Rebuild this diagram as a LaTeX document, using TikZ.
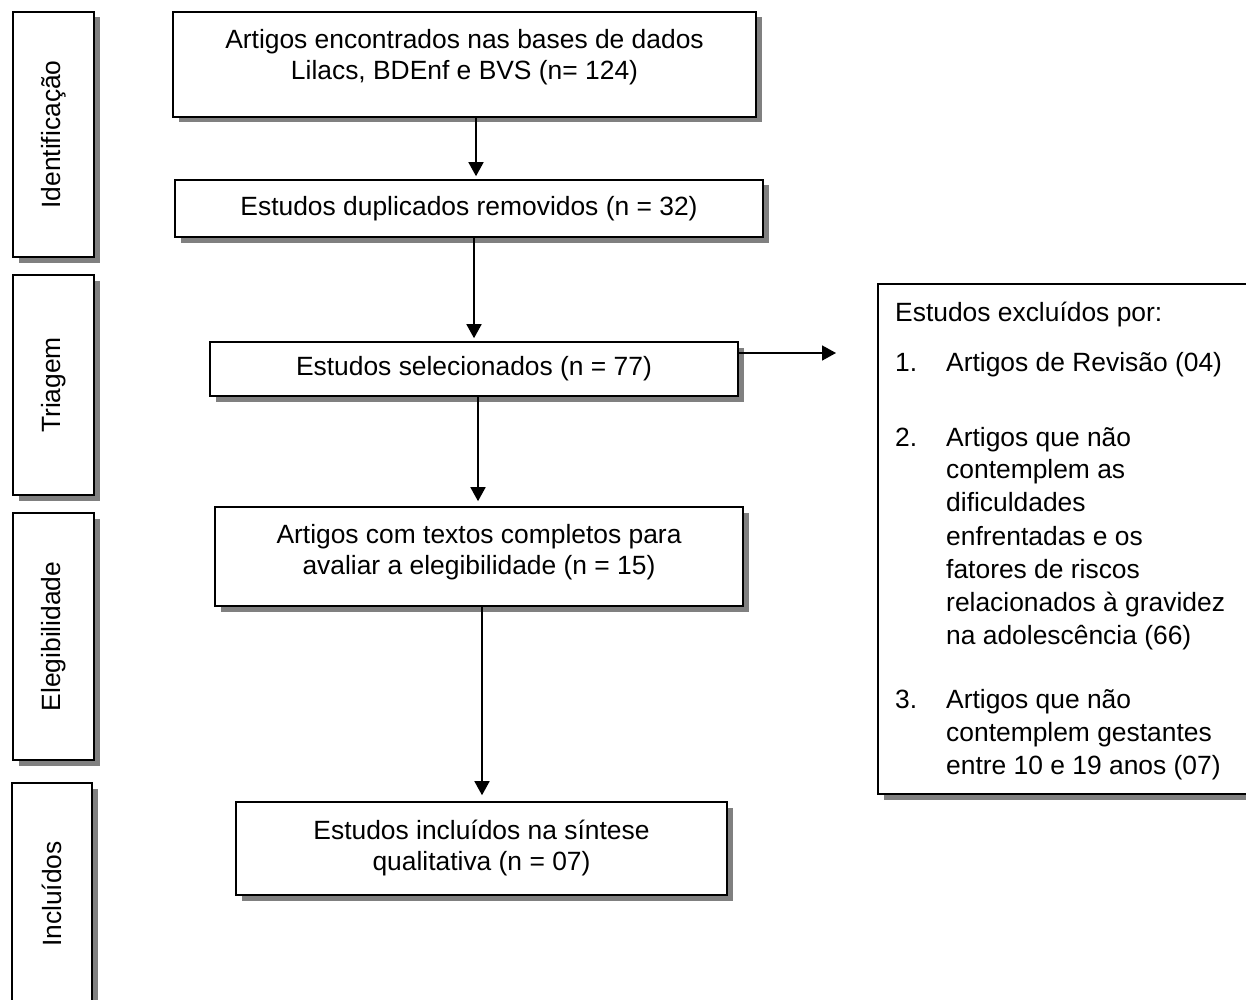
\documentclass[tikz,border=0pt]{standalone}
\usepackage{fontspec}
\setmainfont{Liberation Sans}
\usepackage{graphicx}
\usetikzlibrary{arrows.meta,shadows}
\begin{document}
\begin{tikzpicture}[x=1pt,y=-1pt,
  every node/.style={font=\fontsize{26.4pt}{31pt}\selectfont},
  box/.style={draw, line width=1.6pt, fill=white, inner sep=0pt, align=center,
     drop shadow={shadow xshift=5.5pt, shadow yshift=-5.5pt, fill=black!50, opacity=1}},
  arr/.style={line width=1.6pt, -{Triangle[width=15pt,length=14pt]}, shorten >=3pt},
  txt/.style={anchor=base west, inner sep=0pt}
]
\useasboundingbox (0,0) rectangle (1246,1000);

% side boxes
\node[box, minimum width=81pt, minimum height=245pt] (s1) at (53.5,134.5) {\rotatebox{90}{Identificação}};
\node[box, minimum width=81pt, minimum height=220pt] (s2) at (53.5,385) {\rotatebox{90}{Triagem}};
\node[box, minimum width=81pt, minimum height=247pt] (s3) at (53.5,636.5) {\rotatebox{90}{Elegibilidade}};
\node[box, minimum width=80pt, minimum height=222pt] (s4) at (52,894) {\rotatebox{90}{Incluídos}};

% main boxes
\node[box, minimum width=583pt, minimum height=105pt] (b1) at (464.5,64.5) {Artigos encontrados nas bases de dados\\Lilacs, BDEnf e BVS (n= 124)\\[-11pt]\mbox{}};
\node[box, minimum width=588pt, minimum height=57pt] (b2) at (469,208.5) {Estudos duplicados removidos (n = 32)};
\node[box, minimum width=528pt, minimum height=54pt] (b3) at (474,369) {Estudos selecionados (n = 77)};
\node[box, minimum width=528pt, minimum height=99pt] (b4) at (479,556.5) {Artigos com textos completos para\\avaliar a elegibilidade (n = 15)\\[-17.5pt]\mbox{}};
\node[box, minimum width=491pt, minimum height=93pt] (b5) at (481.5,848.5) {Estudos incluídos na síntese\\qualitativa (n = 07)};

% exclusion box
\node[box, minimum width=376pt, minimum height=510pt] (ex) at (1066,539) {};
\node[txt] (e0) at (895,321) {Estudos excluídos por:};
\node[txt] (n1) at (895,371) {1.};
\node[txt] (e1) at (946,371) {Artigos de Revisão (04)};
\node[txt] (n2) at (895,446) {2.};
\node[txt] (e2a) at (946,446) {Artigos que não};
\node[txt] (e2b) at (946,478) {contemplem as};
\node[txt] (e2c) at (946,511) {dificuldades};
\node[txt] (e2d) at (946,545) {enfrentadas e os};
\node[txt] (e2e) at (946,578) {fatores de riscos};
\node[txt] (e2f) at (946,611) {relacionados à gravidez};
\node[txt] (e2g) at (946,644) {na adolescência (66)};
\node[txt] (n3) at (895,708) {3.};
\node[txt] (e3a) at (946,708) {Artigos que não};
\node[txt] (e3b) at (946,741) {contemplem gestantes};
\node[txt] (e3c) at (946,774) {entre 10 e 19 anos (07)};

% connectors
\coordinate (c1) at (476,0);
\coordinate (c2) at (474,0);
\coordinate (c3) at (478,0);
\coordinate (c4) at (482,0);
\coordinate (xend) at (836,353);
\draw[arr] (b1.south -| c1) -- (b2.north -| c1);
\draw[arr] (b2.south -| c2) -- (b3.north -| c2);
\draw[arr, shorten >=5pt] (b3.south -| c3) -- (b4.north -| c3);
\draw[arr, shorten >=6pt] (b4.south -| c4) -- (b5.north -| c4);
\draw[arr, shorten >=0pt] (b3.east |- xend) -- (xend);
\end{tikzpicture}
\end{document}
